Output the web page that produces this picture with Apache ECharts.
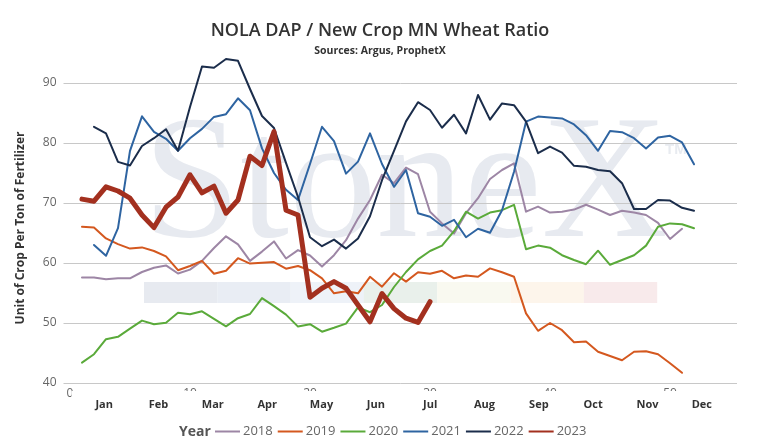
<!DOCTYPE html>
<html><head><meta charset="utf-8">
<script src="https://cdn.jsdelivr.net/npm/echarts@6/dist/echarts.min.js"></script>
<style>html,body{margin:0;padding:0;background:#fff}#c{width:760px;height:447px}</style>
</head><body><div id="c"></div>
<script>
// ---- data ----
const years = ['2018', '2019', '2020', '2021', '2022', '2023'];
const firstWeek = [1, 1, 1, 2, 2, 1];
const months = ['Jan', 'Feb', 'Mar', 'Apr', 'May', 'Jun', 'Jul', 'Aug', 'Sep', 'Oct', 'Nov', 'Dec'];
const weekTickLabels = [0, 10, 20, 30, 40, 50];
const yTicks = [40, 50, 60, 70, 80, 90];

const v2018 = [57.6, 57.6, 57.3, 57.45, 57.45, 58.5, 59.2, 59.6, 58.25, 58.9, 60.35, 62.5, 64.45, 63.1, 60.35, 61.9, 63.6, 60.75, 62.15, 61.25,
  59.4, 61.3, 63.8, 67.4, 70.5, 74.7, 73.3, 75.9, 74.8, 68.55, 66.6, 64.9, 68.3, 70.8, 74.0, 75.5, 76.6, 68.55, 69.4, 68.4,
  68.55, 68.9, 69.7, 68.9, 68.0, 68.7, 68.4, 68.0, 66.7, 64.0, 65.7];
const v2019 = [66.05, 65.9, 64.1, 63.15, 62.4, 62.6, 62.0, 61.1, 58.8, 59.5, 60.35, 58.2, 58.7, 60.8, 59.9, 60.05, 60.15, 59.05, 59.5, 58.8,
  57.45, 54.95, 55.3, 54.95, 57.7, 56.05, 58.3, 56.9, 58.45, 58.2, 58.7, 57.45, 57.9, 57.7, 59.1, 58.45, 57.7, 51.6, 48.7, 50.0,
  48.8, 46.8, 46.9, 45.2, 44.5, 43.8, 45.2, 45.3, 44.8, 43.3, 41.7];
const v2020 = [43.4, 44.8, 47.3, 47.7, 49.05, 50.4, 49.8, 50.05, 51.7, 51.45, 51.95, 50.7, 49.45, 50.8, 51.5, 54.15, 52.8, 51.4, 49.4, 49.8,
  48.55, 49.2, 49.9, 52.6, 51.8, 53.0, 56.0, 58.5, 60.6, 62.0, 62.9, 65.3, 68.55, 67.4, 68.4, 68.8, 69.7, 62.3, 62.9, 62.55,
  61.3, 60.5, 59.8, 62.05, 59.7, 60.5, 61.3, 62.9, 66.05, 66.6, 66.45, 65.8];
const v2021 = [63.0, 61.2, 65.8, 78.7, 84.45, 81.85, 80.7, 78.7, 80.8, 82.35, 84.35, 84.8, 87.45, 85.45, 79.1, 75.0, 72.2, 70.5, 76.5,
  82.7, 80.3, 74.9, 76.9, 81.6, 76.5, 72.7, 75.5, 68.3, 67.7, 66.2, 67.2, 64.3, 65.7, 65.05, 68.8, 75.2, 83.55, 84.4, 84.25,
  84.1, 83.1, 81.3, 78.7, 82.0, 81.8, 80.8, 79.1, 80.9, 81.2, 80.1, 76.45];
const v2022 = [82.7, 81.6, 76.85, 76.25, 79.5, 80.8, 82.3, 78.7, 86.0, 92.75, 92.55, 94.0, 93.7, 89.0, 84.5, 82.5, 76.7, 71.0, 64.3,
  62.8, 63.9, 62.4, 64.1, 67.8, 73.8, 78.7, 83.6, 86.8, 85.5, 82.55, 84.7, 81.6, 88.0, 83.9, 86.6, 86.3, 83.55, 78.3, 79.4,
  78.4, 76.2, 76.05, 75.5, 75.3, 73.3, 69.0, 69.0, 70.5, 70.4, 69.2, 68.7];
const v2023 = [70.65, 70.3, 72.7, 72.0, 70.8, 68.0, 65.9, 69.3, 71.0, 74.7, 71.7, 72.8, 68.3, 70.5, 77.8, 76.25, 81.9, 68.8, 68.0, 54.3,
  55.8, 56.9, 55.8, 53.0, 50.2, 54.9, 52.4, 50.8, 50.1, 53.55];

const allValues = [v2018, v2019, v2020, v2021, v2022, v2023];

// ---- styles ----
const colors = ['#9d86a5', '#d4581f', '#5aaa3a', '#2e64a1', '#1b2d4b', '#a3301f'];
const widths = [2, 2, 2, 2, 2, 5];
const barColors = ['#e7eaf0', '#e9edf4', '#eef2f8', '#e9f0eb', '#f9f9f0', '#fdf5eb', '#f8eaeb'];

const chart = echarts.init(document.getElementById('c'), null, { renderer: 'canvas' });

const series = years.map((y, k) => ({
  name: y,
  type: 'line',
  xAxisIndex: 0,
  yAxisIndex: 0,
  symbol: 'none',
  clip: false,
  z: 2 + k,
  color: colors[k],
  lineStyle: { width: widths[k], color: colors[k], join: 'round', cap: 'round' },
  data: allValues[k].map((v, i) => [firstWeek[k] + i, v])
}));

const graphics = [];
barColors.forEach((c, i) => {
  graphics.push({ type: 'rect', z: -1, shape: { x: 144 + i * 73.3, y: 282, width: 73.4, height: 21 }, style: { fill: c } });
});
graphics.push({ type: 'text', z: -1, x: 143, y: 190, style: { text: 'StoneX', font: '175px "Liberation Serif"', fill: '#e7eaf0', verticalAlign: 'middle' } });
graphics.push({ type: 'text', z: -1, x: 665, y: 150, style: { text: 'TM', font: 'bold 15px "Liberation Sans"', fill: '#e8ebf0', verticalAlign: 'middle' } });
graphics.push({ type: 'rect', z: 50, shape: { x: 71.5, y: 391, width: 690, height: 30 }, style: { fill: '#ffffff' } });
graphics.push({ type: 'text', z: 60, x: 179, y: 432, style: { text: 'Year', font: 'bold 14px "Open Sans"', fill: '#555', verticalAlign: 'middle' } });

chart.setOption({
  animation: false,
  backgroundColor: '#fff',
  textStyle: { fontFamily: '"Open Sans", sans-serif' },
  title: [
    { text: 'NOLA DAP / New Crop MN Wheat Ratio', left: 'center', top: 22, padding: 0,
      textStyle: { fontSize: 18, fontWeight: 600, color: '#333', fontFamily: '"Open Sans"' } },
    { text: 'Sources: Argus, ProphetX', left: 'center', top: 46, padding: 0,
      textStyle: { fontSize: 10.5, fontWeight: 'bold', color: '#333', fontFamily: '"Open Sans"' } }
  ],
  legend: {
    data: years, left: 215, top: 425, padding: 0, icon: 'rect', itemWidth: 25, itemHeight: 2, itemGap: 5,
    textStyle: { color: '#666', fontSize: 13, padding: [0, 0, 0, -2] }
  },
  graphic: graphics,
  grid: [
    { left: 63.5, right: 23, top: 83, bottom: 64 },
    { left: 77, right: 31, top: 383, height: 0 }
  ],
  xAxis: [
    { gridIndex: 0, type: 'value', min: -0.54, max: 55.58,
      axisLine: { show: false }, axisTick: { show: false }, splitLine: { show: false },
      axisLabel: { customValues: weekTickLabels, color: '#666', fontSize: 12, margin: 5 } },
    { gridIndex: 1, type: 'category', data: months, z: 100,
      axisLine: { show: false }, axisTick: { show: false }, splitLine: { show: false },
      axisLabel: { interval: 0, fontWeight: 'bold', fontSize: 11, color: '#333', margin: 16 } }
  ],
  yAxis: [
    { gridIndex: 0, type: 'value', min: yTicks[0], max: yTicks[yTicks.length - 1], interval: 10,
      axisLine: { show: false }, axisTick: { show: false },
      splitLine: { lineStyle: { color: '#c8c8c8', width: 1 } },
      axisLabel: { color: '#666', fontSize: 12, margin: 7 },
      name: 'Unit of Crop Per Ton of Fertilizer', nameLocation: 'middle', nameGap: 37,
      nameTextStyle: { fontWeight: 'bold', fontSize: 12, color: '#333', padding: [0, 0, 0, 10] } },
    { gridIndex: 1, type: 'value', show: false }
  ],
  series: series
});
</script>
</body></html>
